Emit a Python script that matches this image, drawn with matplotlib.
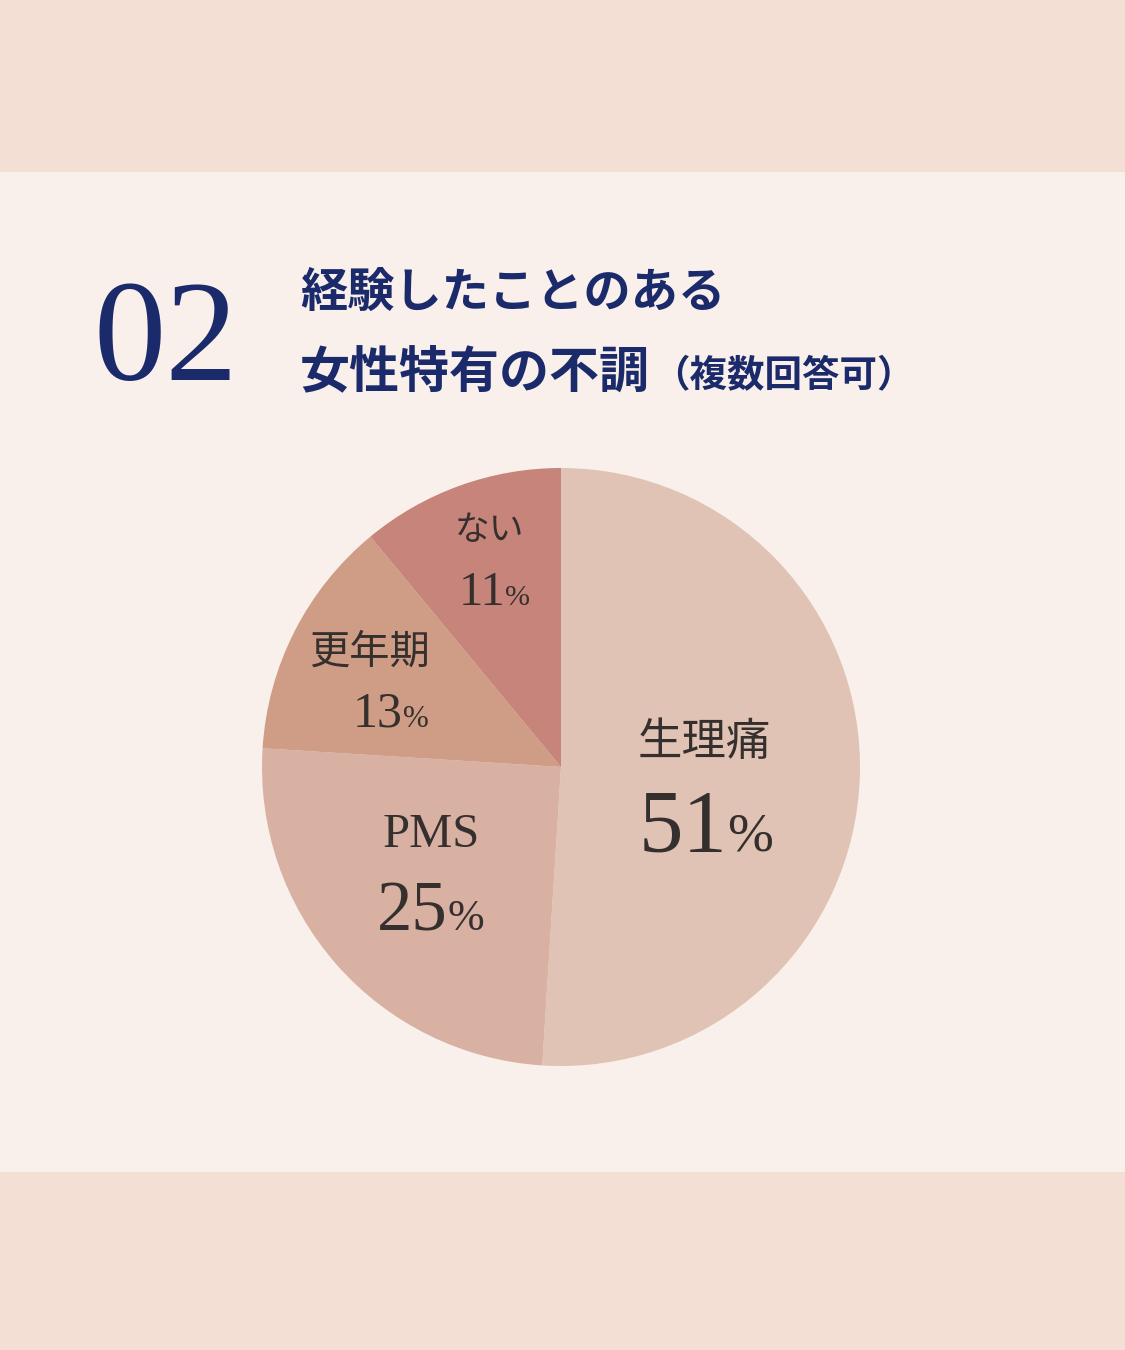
import matplotlib
matplotlib.use("Agg")
import matplotlib.pyplot as plt
import numpy as np
from matplotlib.patches import Rectangle

# data
categories = ["生理痛", "PMS", "更年期", "ない"]
values = [51, 25, 13, 11]
colors = ["#e0c3b4", "#d8b1a3", "#cf9c86", "#c6847a"]

title_num = "02"
title_line1 = "経験したことのある"
title_line2 = "女性特有の不調"
title_note = "（複数回答可）"

NAVY = "#1b2a6b"
INK = "#35302e"
SERIF = ["Liberation Serif", "DejaVu Serif"]
JP = ["Noto Sans CJK JP", "DejaVu Sans"]

W, H = 1125, 1350
fig = plt.figure(figsize=(W / 100, H / 100), dpi=100)
fig.patch.set_facecolor("#f3dfd3")
fig.patches.append(Rectangle((0, 1 - 1172 / H), 1, 1000 / H, transform=fig.transFigure,
                             facecolor="#f9f0eb", edgecolor="none", zorder=-5))


def px(x, y):
    return x / W, 1 - y / H


# header
fig.text(*px(166, 346), title_num, family=SERIF, fontsize=104, color=NAVY,
         ha="center", va="center")
fig.text(*px(300, 293), title_line1, family=JP, fontsize=34, fontweight="bold",
         color=NAVY, ha="left", va="center")
fig.text(*px(300, 373), title_line2, family=JP, fontsize=36, fontweight="bold",
         color=NAVY, ha="left", va="center")
fig.text(*px(652, 376), title_note, family=JP, fontsize=27, fontweight="bold",
         color=NAVY, ha="left", va="center")

# pie
cx, cy, r = 561, 767, 299
ax = fig.add_axes([(cx - r) / W, (H - cy - r) / H, 2 * r / W, 2 * r / H])
ax.set_zorder(2)
wedges, _ = ax.pie(values, colors=colors, startangle=90, counterclock=False,
                   wedgeprops=dict(linewidth=0))
ax.set_xlim(-1, 1)
ax.set_ylim(-1, 1)
ax.set_aspect("auto")
ax.axis("off")

# label layout, in units of the pie radius
label_r = [0.48, 0.58, 0.70, 0.62]
name_size = [32, 35, 29, 25]
num_size = [64, 51, 36, 35]
name_off = [(0.0, 0.099), (0.0, 0.156), (-0.018, 0.067), (-0.03, 0.209)]
num_off = [(0.005, -0.263), (0.0, -0.162), (0.055, -0.184), (-0.013, -0.041)]

fig.canvas.draw()
renderer = fig.canvas.get_renderer()
for i, (w, name, val) in enumerate(zip(wedges, categories, values)):
    ang = np.deg2rad((w.theta1 + w.theta2) / 2)
    x, y = label_r[i] * np.cos(ang), label_r[i] * np.sin(ang)
    fam = SERIF if name == "PMS" else JP
    ax.text(x + name_off[i][0], y + name_off[i][1], name, family=fam,
            fontsize=name_size[i], color=INK, ha="center", va="center")
    t_num = ax.text(x, y, str(val), family=SERIF, fontsize=num_size[i],
                    color=INK, ha="left", va="baseline")
    t_pct = ax.text(x, y, "%", family=SERIF, fontsize=num_size[i] * 0.62,
                    color=INK, ha="left", va="baseline")
    wn = t_num.get_window_extent(renderer).width
    wp = t_pct.get_window_extent(renderer).width
    x0 = x + num_off[i][0] - (wn + wp) / (2 * r)
    base = y + num_off[i][1]
    t_num.set_position((x0, base))
    t_pct.set_position((x0 + wn / r, base))

fig.savefig("out.png", dpi=100, facecolor=fig.get_facecolor())
